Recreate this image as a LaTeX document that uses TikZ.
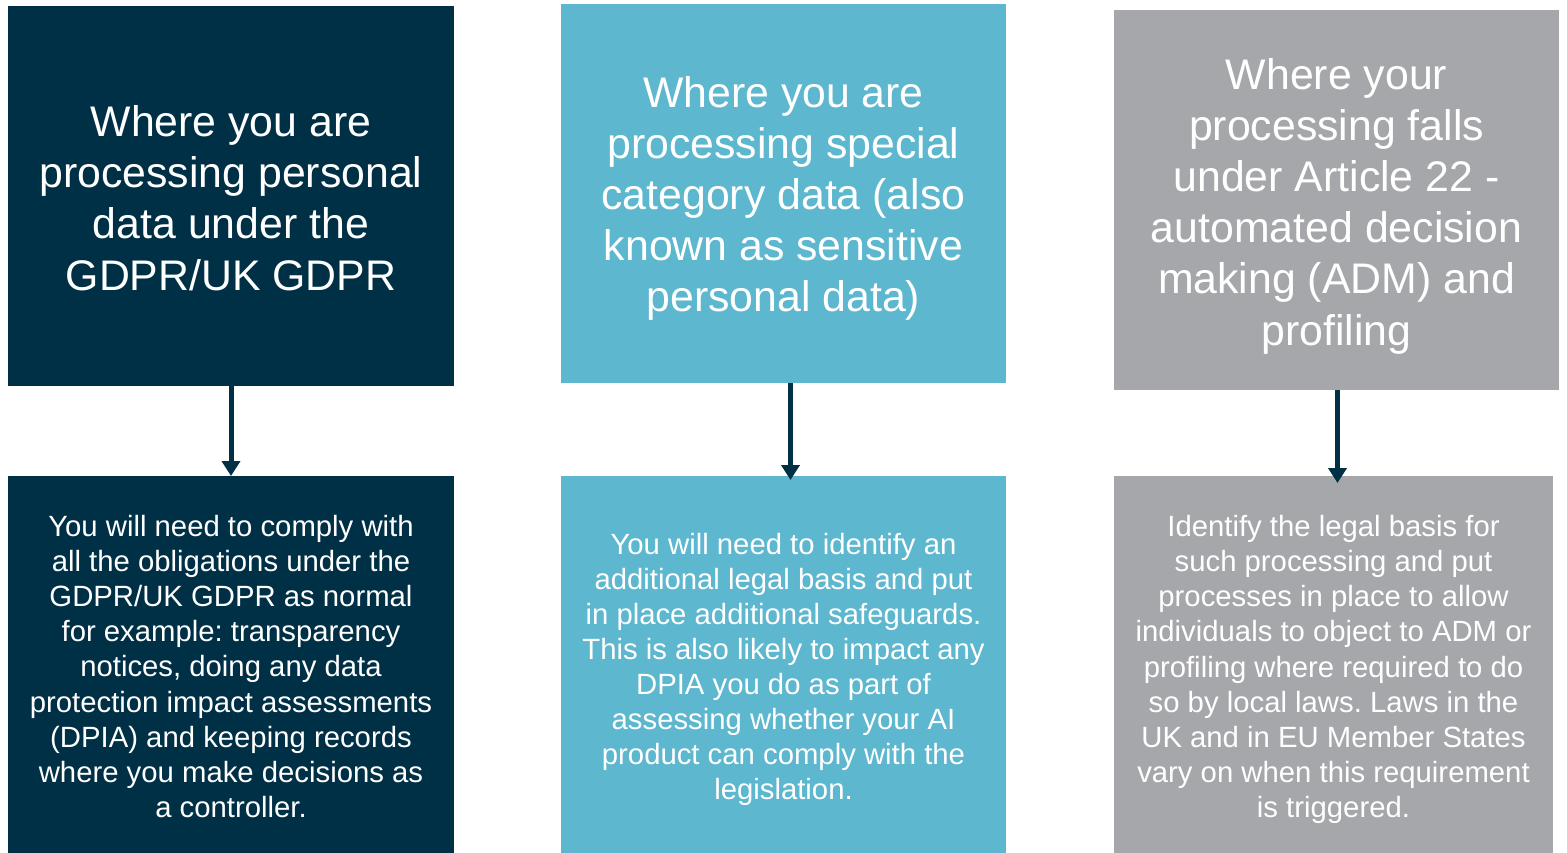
\documentclass[tikz,border=0pt]{standalone}
\usepackage{fontspec}
\setmainfont{Liberation Sans}
\frenchspacing
\usetikzlibrary{arrows.meta}
\definecolor{navy}{RGB}{0,48,69}
\definecolor{teal}{RGB}{93,183,206}
\definecolor{greybox}{RGB}{166,167,171}
\tikzset{
  box/.style={rectangle, inner sep=0pt, outer sep=0pt, anchor=north west},
  headtext/.style={text=white, align=center, inner sep=0pt, font=\fontsize{42.8}{51.2}\selectfont},
  bodytext/.style={text=white, align=center, inner sep=0pt, font=\fontsize{29.3}{35.1}\selectfont},
  flowarrow/.style={draw=navy, line width=5pt, -{Triangle[width=18pt,length=15pt]}}
}
\begin{document}
\begin{tikzpicture}[x=1pt,y=-1pt]
\useasboundingbox (0,0) rectangle (1567,852);
% top boxes
\node[box, fill=navy, minimum width=446pt, minimum height=380pt] (t1) at (8,6) {};
\node[box, fill=teal, minimum width=445pt, minimum height=379pt] (t2) at (561,4) {};
\node[box, fill=greybox, minimum width=445pt, minimum height=380pt] (t3) at (1114,10) {};
% bottom boxes
\node[box, fill=navy, minimum width=446pt, minimum height=380pt] (b1) at (8,476) {};
\node[box, fill=teal, minimum width=445pt, minimum height=380pt] (b2) at (561,476) {};
\node[box, fill=greybox, minimum width=439pt, minimum height=380pt] (b3) at (1114,476) {};
% texts
\node[headtext] (t1x) at ([yshift=-2pt]t1.center)
  {Where you are\\processing personal\\data under the\\GDPR/UK GDPR};
\node[headtext] (t2x) at ([yshift=-5pt]t2.center)
  {Where you are\\processing special\\category data (also\\known as sensitive\\personal data)};
\node[headtext] (t3x) at ([yshift=-6pt]t3.center)
  {Where your\\processing falls\\under Article 22 -\\automated decision\\making (ADM) and\\profiling};
\node[bodytext] (b1x) at ([yshift=-0.5pt]b1.center)
  {You will need to comply with\\all the obligations under the\\GDPR/UK GDPR as normal\\for example: transparency\\notices, doing any data\\protection impact assessments\\(DPIA) and keeping records\\where you make decisions as\\a controller.};
\node[bodytext] (b2x) at ([yshift=-3.5pt]b2.center)
  {You will need to identify an\\additional legal basis and put\\in place additional safeguards.\\This is also likely to impact any\\DPIA you do as part of\\assessing whether your AI\\product can comply with the\\legislation.};
\node[bodytext] (b3x) at ([yshift=-3.5pt]b3.center)
  {Identify the legal basis for\\such processing and put\\processes in place to allow\\individuals to object to ADM or\\profiling where required to do\\so by local laws. Laws in the\\UK and in EU Member States\\vary on when this requirement\\is triggered.};
% arrows
\coordinate (a2s) at ([xshift=7pt]t2.south);
\coordinate (a2e) at ([xshift=7pt,yshift=-4pt]b2.north);
\coordinate (a3s) at ([xshift=1pt]t3.south);
\coordinate (a3e) at ([xshift=4pt,yshift=-7pt]b3.north);
\draw[flowarrow] (t1.south) -- (b1.north);
\draw[flowarrow] (a2s) -- (a2e);
\draw[flowarrow] (a3s) -- (a3e);
\end{tikzpicture}
\end{document}
